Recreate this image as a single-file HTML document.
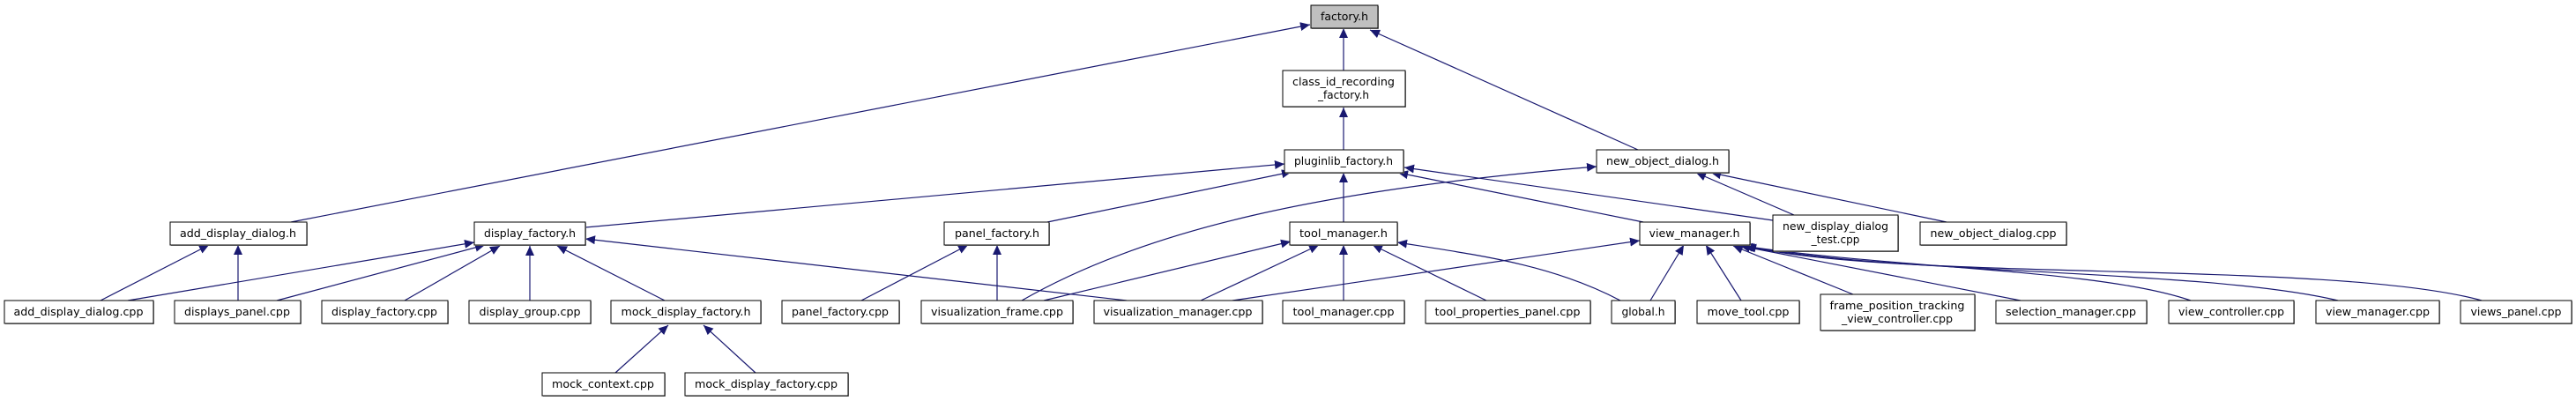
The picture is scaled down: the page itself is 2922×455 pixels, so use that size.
<!DOCTYPE html>
<html><head><meta charset="utf-8"><style>
html,body{margin:0;padding:0;background:#fff;width:2922px;height:455px;overflow:hidden}
svg{display:block}
text{font-family:"DejaVu Sans","Liberation Sans",sans-serif;font-size:12px;fill:#000;text-anchor:middle}
.n{fill:#fff;stroke:#000;stroke-width:1}
.s{fill:#999;stroke:none}
.e{fill:none;stroke:#191970;stroke-width:1.2}
</style></head><body>
<svg width="2922" height="455" viewBox="0 0 2922 455" xmlns="http://www.w3.org/2000/svg">
<defs>
<marker id="a" markerUnits="userSpaceOnUse" markerWidth="12" markerHeight="10" refX="11" refY="5" orient="auto">
<path d="M0,0 L11,5 L0,10 Z" fill="#191970"/>
</marker>
</defs>
<g class="edges">
<path class="e" marker-end="url(#a)" d="M330,252 L1486,28"/>
<path class="e" marker-end="url(#a)" d="M1524,80 L1524,32"/>
<path class="e" marker-end="url(#a)" d="M1858,170 L1554,34"/>
<path class="e" marker-end="url(#a)" d="M1524,170 L1524,122"/>
<path class="e" marker-end="url(#a)" d="M664,258 L1457,186"/>
<path class="e" marker-end="url(#a)" d="M1188,252 L1465,195"/>
<path class="e" marker-end="url(#a)" d="M1524,252 L1524,196"/>
<path class="e" marker-end="url(#a)" d="M1864,252 L1586,196"/>
<path class="e" marker-end="url(#a)" d="M2011,250 L1593,190"/>
<path class="e" marker-end="url(#a)" d="M1159,341 C1300,260 1500,215 1811,189"/>
<path class="e" marker-end="url(#a)" d="M2035,244 L1924,196"/>
<path class="e" marker-end="url(#a)" d="M2208,252 L1941,196"/>
<path class="e" marker-end="url(#a)" d="M114,341 L237,278"/>
<path class="e" marker-end="url(#a)" d="M270,341 L270,278"/>
<path class="e" marker-end="url(#a)" d="M145,341 L538,275"/>
<path class="e" marker-end="url(#a)" d="M314,341 L550,278"/>
<path class="e" marker-end="url(#a)" d="M459,341 L567,279"/>
<path class="e" marker-end="url(#a)" d="M601,341 L601,279"/>
<path class="e" marker-end="url(#a)" d="M754,341 L632,279"/>
<path class="e" marker-end="url(#a)" d="M1278,341 L664,271"/>
<path class="e" marker-end="url(#a)" d="M698,423 L758,369"/>
<path class="e" marker-end="url(#a)" d="M857,423 L798,369"/>
<path class="e" marker-end="url(#a)" d="M977,341 L1098,278"/>
<path class="e" marker-end="url(#a)" d="M1131,341 L1131,278"/>
<path class="e" marker-end="url(#a)" d="M1184,341 L1464,274"/>
<path class="e" marker-end="url(#a)" d="M1362,341 L1496,278"/>
<path class="e" marker-end="url(#a)" d="M1524,341 L1524,278"/>
<path class="e" marker-end="url(#a)" d="M1686,341 L1557,278"/>
<path class="e" marker-end="url(#a)" d="M1838,341 C1760,300 1680,290 1585,275"/>
<path class="e" marker-end="url(#a)" d="M1398,341 L1860,273"/>
<path class="e" marker-end="url(#a)" d="M1872,341 L1910,278"/>
<path class="e" marker-end="url(#a)" d="M1975,341 L1935,278"/>
<path class="e" marker-end="url(#a)" d="M2102,334 L1966,279"/>
<path class="e" marker-end="url(#a)" d="M2292,341 L1974,279"/>
<path class="e" marker-end="url(#a)" d="M2485,341 C2380,305 2150,305 1977,279"/>
<path class="e" marker-end="url(#a)" d="M2652,341 C2500,305 2150,312 1979,279"/>
<path class="e" marker-end="url(#a)" d="M2815,341 C2650,295 2150,320 1981,279"/>
</g>
<g class="nodes">
<!-- helper: shadow rect offset 1px -->
<rect class="s" x="1488" y="7" width="76" height="26"/><rect x="1487" y="6" width="76" height="26" fill="#bfbfbf" stroke="#000"/><text x="1525" y="23" textLength="54" lengthAdjust="spacingAndGlyphs">factory.h</text>

<rect class="s" x="1456" y="81" width="139" height="41"/><rect class="n" x="1455" y="80" width="139" height="41"/><text x="1524" y="97" textLength="116" lengthAdjust="spacingAndGlyphs">class_id_recording</text><text x="1524" y="112">_factory.h</text>

<rect class="s" x="1458" y="171" width="135" height="26"/><rect class="n" x="1457" y="170" width="135" height="26"/><text x="1524" y="187" textLength="112" lengthAdjust="spacingAndGlyphs">pluginlib_factory.h</text>

<rect class="s" x="1812" y="171" width="150" height="26"/><rect class="n" x="1811" y="170" width="150" height="26"/><text x="1886" y="187" textLength="128" lengthAdjust="spacingAndGlyphs">new_object_dialog.h</text>

<rect class="s" x="194" y="253" width="155" height="26"/><rect class="n" x="193" y="252" width="155" height="26"/><text x="270" y="269" textLength="132" lengthAdjust="spacingAndGlyphs">add_display_dialog.h</text>

<rect class="s" x="539" y="253" width="126" height="26"/><rect class="n" x="538" y="252" width="126" height="26"/><text x="601" y="269" textLength="104" lengthAdjust="spacingAndGlyphs">display_factory.h</text>

<rect class="s" x="1072" y="253" width="119" height="26"/><rect class="n" x="1071" y="252" width="119" height="26"/><text x="1131" y="269" textLength="96" lengthAdjust="spacingAndGlyphs">panel_factory.h</text>

<rect class="s" x="1464" y="253" width="122" height="26"/><rect class="n" x="1463" y="252" width="122" height="26"/><text x="1524" y="269" textLength="100" lengthAdjust="spacingAndGlyphs">tool_manager.h</text>

<rect class="s" x="1861" y="253" width="125" height="26"/><rect class="n" x="1860" y="252" width="125" height="26"/><text x="1922" y="269" textLength="103" lengthAdjust="spacingAndGlyphs">view_manager.h</text>

<rect class="s" x="2012" y="245" width="142" height="41"/><rect class="n" x="2011" y="244" width="142" height="41"/><text x="2082" y="261" textLength="120" lengthAdjust="spacingAndGlyphs">new_display_dialog</text><text x="2082" y="276">_test.cpp</text>

<rect class="s" x="2179" y="253" width="166" height="26"/><rect class="n" x="2178" y="252" width="166" height="26"/><text x="2261" y="269" textLength="143" lengthAdjust="spacingAndGlyphs">new_object_dialog.cpp</text>

<rect class="s" x="6" y="342" width="169" height="26"/><rect class="n" x="5" y="341" width="169" height="26"/><text x="89" y="358" textLength="147" lengthAdjust="spacingAndGlyphs">add_display_dialog.cpp</text>
<rect class="s" x="199" y="342" width="143" height="26"/><rect class="n" x="198" y="341" width="143" height="26"/><text x="269" y="358" textLength="120" lengthAdjust="spacingAndGlyphs">displays_panel.cpp</text>
<rect class="s" x="366" y="342" width="143" height="26"/><rect class="n" x="365" y="341" width="143" height="26"/><text x="436" y="358" textLength="120" lengthAdjust="spacingAndGlyphs">display_factory.cpp</text>
<rect class="s" x="533" y="342" width="138" height="26"/><rect class="n" x="532" y="341" width="138" height="26"/><text x="601" y="358" textLength="115" lengthAdjust="spacingAndGlyphs">display_group.cpp</text>
<rect class="s" x="694" y="342" width="170" height="26"/><rect class="n" x="693" y="341" width="170" height="26"/><text x="778" y="358" textLength="147" lengthAdjust="spacingAndGlyphs">mock_display_factory.h</text>
<rect class="s" x="888" y="342" width="133" height="26"/><rect class="n" x="887" y="341" width="133" height="26"/><text x="953" y="358" textLength="110" lengthAdjust="spacingAndGlyphs">panel_factory.cpp</text>
<rect class="s" x="1046" y="342" width="172" height="26"/><rect class="n" x="1045" y="341" width="172" height="26"/><text x="1131" y="358" textLength="150" lengthAdjust="spacingAndGlyphs">visualization_frame.cpp</text>
<rect class="s" x="1242" y="342" width="191" height="26"/><rect class="n" x="1241" y="341" width="191" height="26"/><text x="1336" y="358" textLength="169" lengthAdjust="spacingAndGlyphs">visualization_manager.cpp</text>
<rect class="s" x="1456" y="342" width="138" height="26"/><rect class="n" x="1455" y="341" width="138" height="26"/><text x="1524" y="358" textLength="115" lengthAdjust="spacingAndGlyphs">tool_manager.cpp</text>
<rect class="s" x="1618" y="342" width="187" height="26"/><rect class="n" x="1617" y="341" width="187" height="26"/><text x="1710" y="358" textLength="165" lengthAdjust="spacingAndGlyphs">tool_properties_panel.cpp</text>
<rect class="s" x="1829" y="342" width="72" height="26"/><rect class="n" x="1828" y="341" width="72" height="26"/><text x="1864" y="358" textLength="49" lengthAdjust="spacingAndGlyphs">global.h</text>
<rect class="s" x="1926" y="342" width="116" height="26"/><rect class="n" x="1925" y="341" width="116" height="26"/><text x="1983" y="358" textLength="93" lengthAdjust="spacingAndGlyphs">move_tool.cpp</text>
<rect class="s" x="2066" y="335" width="175" height="41"/><rect class="n" x="2065" y="334" width="175" height="41"/><text x="2152" y="351" textLength="153" lengthAdjust="spacingAndGlyphs">frame_position_tracking</text><text x="2152" y="366" textLength="126" lengthAdjust="spacingAndGlyphs">_view_controller.cpp</text>
<rect class="s" x="2265" y="342" width="171" height="26"/><rect class="n" x="2264" y="341" width="171" height="26"/><text x="2349" y="358" textLength="148" lengthAdjust="spacingAndGlyphs">selection_manager.cpp</text>
<rect class="s" x="2461" y="342" width="142" height="26"/><rect class="n" x="2460" y="341" width="142" height="26"/><text x="2531" y="358" textLength="120" lengthAdjust="spacingAndGlyphs">view_controller.cpp</text>
<rect class="s" x="2628" y="342" width="140" height="26"/><rect class="n" x="2627" y="341" width="140" height="26"/><text x="2697" y="358" textLength="118" lengthAdjust="spacingAndGlyphs">view_manager.cpp</text>
<rect class="s" x="2792" y="342" width="126" height="26"/><rect class="n" x="2791" y="341" width="126" height="26"/><text x="2854" y="358" textLength="103" lengthAdjust="spacingAndGlyphs">views_panel.cpp</text>

<rect class="s" x="616" y="424" width="139" height="26"/><rect class="n" x="615" y="423" width="139" height="26"/><text x="684" y="440" textLength="116" lengthAdjust="spacingAndGlyphs">mock_context.cpp</text>
<rect class="s" x="778" y="424" width="185" height="26"/><rect class="n" x="777" y="423" width="185" height="26"/><text x="869" y="440" textLength="162" lengthAdjust="spacingAndGlyphs">mock_display_factory.cpp</text>
</g>
</svg>
</body></html>
